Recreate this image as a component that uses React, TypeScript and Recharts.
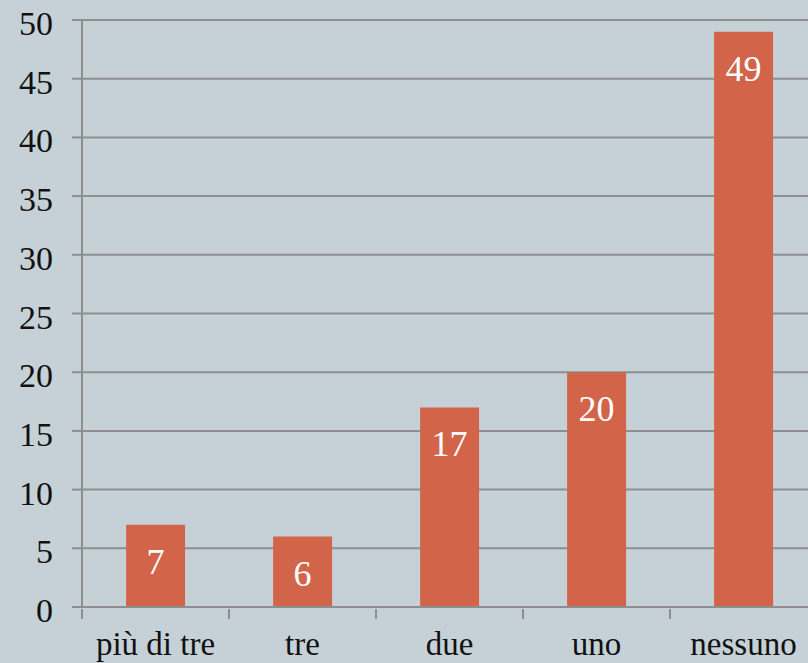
import { BarChart, Bar, XAxis, YAxis, CartesianGrid, LabelList } from "recharts";

const categories = ["più di tre", "tre", "due", "uno", "nessuno"];
const counts = [7, 6, 17, 20, 49];
const yTicks = [0, 5, 10, 15, 20, 25, 30, 35, 40, 45, 50];

const data = categories.map((name, i) => ({ name, value: counts[i] }));

const FONT = "'Liberation Serif', 'DejaVu Serif', serif";
const GRID = "#8e8e8e";
const BAR = "#d2644a";
const BG = "#c6d1d7";

const YTick = ({ x, y, payload }: any) => (
    <text x={x} y={y + 15} textAnchor="end" fontFamily={FONT} fontSize={34} fill="#111">
        {payload.value}
    </text>
);

// category label at the band centre, tick mark at the band's left edge
const XTick = ({ x, y, payload }: any) => {
    const edge = x - (payload.offset ?? 0);
    return (
        <g>
            <line x1={edge} x2={edge} y1={y - 8} y2={y + 2} stroke={GRID} strokeWidth={2} />
            <text x={x} y={y + 38} textAnchor="middle" fontFamily={FONT} fontSize={33} fill="#111">
                {payload.value}
            </text>
        </g>
    );
};

const ValueLabel = ({ x, y, width, value }: any) => (
    <text x={x + width / 2} y={y + 49} textAnchor="middle" fontFamily={FONT} fontSize={36} fill="#fff">
        {value}
    </text>
);

export default function App() {
    return (
        <div style={{ position: "fixed", left: 0, top: 0, width: 808, height: 663, overflow: "hidden", background: BG }}>
            <BarChart
                width={827}
                height={663}
                data={data}
                margin={{ top: 20, right: 10, left: 0, bottom: 0 }}
                barCategoryGap="30%"
            >
                <CartesianGrid vertical={false} stroke={GRID} strokeWidth={2} />
                <XAxis
                    dataKey="name"
                    height={56}
                    tickLine={false}
                    tickSize={8}
                    tickMargin={2}
                    axisLine={{ stroke: GRID, strokeWidth: 2 }}
                    tick={<XTick />}
                    interval={0}
                />
                <YAxis
                    width={82}
                    domain={[0, 50]}
                    ticks={yTicks}
                    interval={0}
                    tickSize={10}
                    tickMargin={19}
                    tickLine={{ stroke: GRID, strokeWidth: 2 }}
                    axisLine={{ stroke: GRID, strokeWidth: 2 }}
                    tick={<YTick />}
                />
                <Bar dataKey="value" fill={BAR} isAnimationActive={false}>
                    <LabelList dataKey="value" content={<ValueLabel />} />
                </Bar>
            </BarChart>
        </div>
    );
}
